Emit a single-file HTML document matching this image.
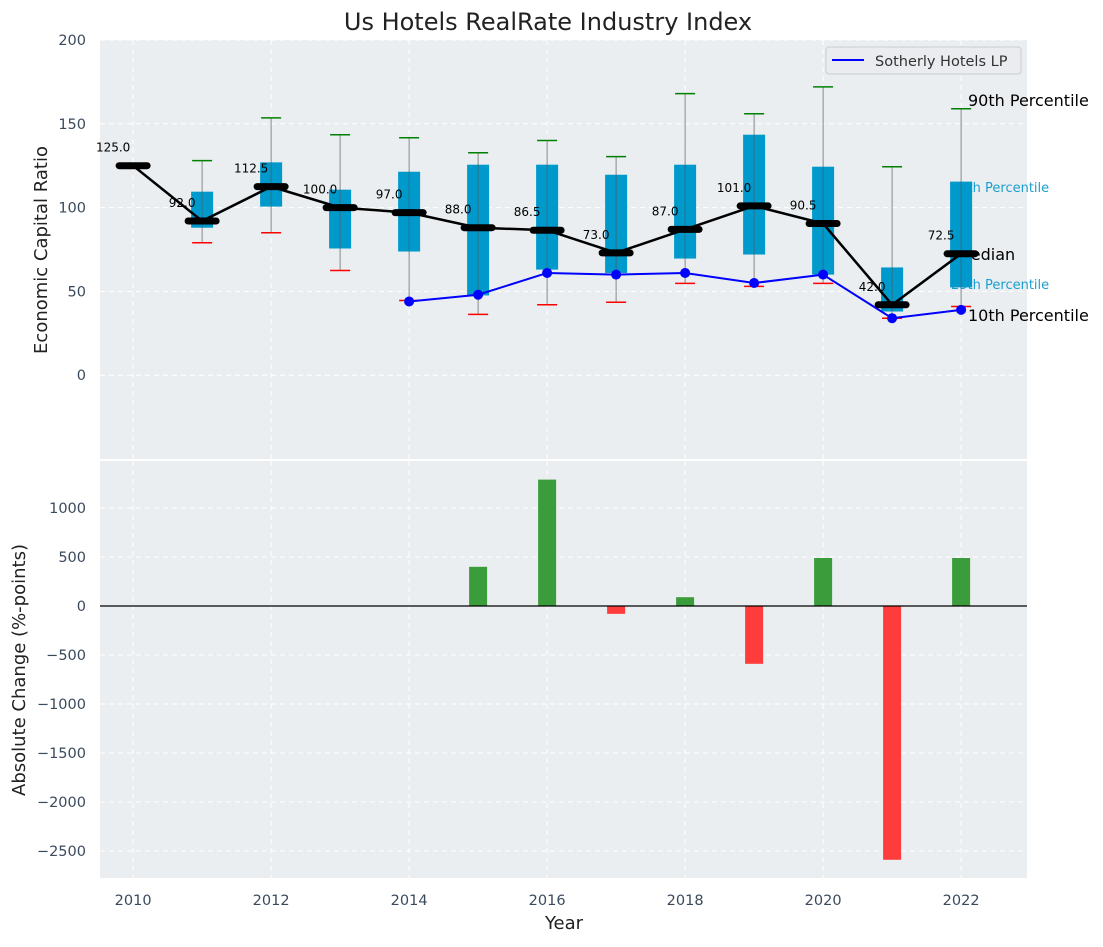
<!DOCTYPE html>
<html><head><meta charset="utf-8"><style>
body{margin:0;background:#fff;font-family:"Liberation Sans","DejaVu Sans",sans-serif;}
svg text{font-family:"DejaVu Sans","Liberation Sans",sans-serif;}
</style></head><body>
<svg id="c" width="1103" height="942" xmlns="http://www.w3.org/2000/svg"></svg>
<script>
const years=[2010,2011,2012,2013,2014,2015,2016,2017,2018,2019,2020,2021,2022];
const medians=[125,92,112.5,100,97,88,86.5,73,87,101,90.5,42,72.5];
const p90=[null,128,153.5,143.5,141.7,132.7,140,130.4,168,156,172,124.4,159];
const p75=[null,109.5,127,110.7,121.4,125.6,125.6,119.6,125.6,143.5,124.4,64.3,115.5];
const p25=[null,88,100.6,75.6,73.8,47.6,63,61,69.6,72,60,38,52.4];
const p10=[null,79,85,62.5,44.6,36.3,42,43.5,54.8,53,54.8,34,41];
const sothYears=[2014,2015,2016,2017,2018,2019,2020,2021,2022];
const sothVals=[44,48,61,60,61,55,60,34,39];
const changeYears=[2015,2016,2017,2018,2019,2020,2021,2022];
const changeVals=[400,1290,-80,90,-590,490,-2590,490];
const topTicks=[0,50,100,150,200];
const botTicks=[1000,500,0,-500,-1000,-1500,-2000,-2500];
const xTicks=[2010,2012,2014,2016,2018,2020,2022];

const NS="http://www.w3.org/2000/svg";
const svg=document.getElementById('c');
function el(t,a,p){const e=document.createElementNS(NS,t);for(const k in a)e.setAttribute(k,a[k]);(p||svg).appendChild(e);return e;}
const L=100,R=1027;
const X=y=>L+(y-2009.52)*(R-L)/(2022.955-2009.52);
const T0=40,T1=459,B0=461,B1=878;
const YT=v=>T0+(200-v)*(T1-T0)/250;
const YB=v=>B0+(1480-v)*(B1-B0)/(1480+2776);

let t=el('text',{x:548,y:30,'font-size':24,'text-anchor':'middle',fill:'#222'});t.textContent='Us Hotels RealRate Industry Index';


let pt=el('rect',{x:L,y:T0,width:R-L,height:T1-T0,fill:'#eaeef0'});

let pb=el('rect',{x:L,y:B0,width:R-L,height:B1-B0,fill:'#eaeef0'});


const g=el('g',{});

xTicks.forEach(y=>{
 el('line',{x1:X(y),x2:X(y),y1:T0,y2:T1,stroke:'#fff','stroke-dasharray':'5,4','stroke-width':1},g);
 el('line',{x1:X(y),x2:X(y),y1:B0,y2:B1,stroke:'#fff','stroke-dasharray':'5,4','stroke-width':1},g);
 const tx=el('text',{x:X(y),y:905,'font-size':14.5,'text-anchor':'middle',fill:'#3a4a5c'});tx.textContent=y;
 
});
topTicks.forEach(v=>{
 el('line',{x1:L,x2:R,y1:YT(v),y2:YT(v),stroke:'#fff','stroke-dasharray':'5,4'},g);
 const tx=el('text',{x:86,y:YT(v)+5,'font-size':14.5,'text-anchor':'end',fill:'#3a4a5c'});tx.textContent=v;
 
});
botTicks.forEach(v=>{
 el('line',{x1:L,x2:R,y1:YB(v),y2:YB(v),stroke:'#fff','stroke-dasharray':'5,4'},g);
 const tx=el('text',{x:86,y:YB(v)+5,'font-size':14.5,'text-anchor':'end',fill:'#3a4a5c'});tx.textContent=String(v).replace('-','\u2212');
 
});

const ann=[['90th Percentile',968,106,16,'#000'],['75th Percentile',951,192,13,'#1a9fd0'],['Median',957,260,16,'#000'],['25th Percentile',951,289,13,'#1a9fd0'],['10th Percentile',968,321,16,'#000']];
ann.forEach(a=>{const tx=el('text',{x:a[1],y:a[2],'font-size':a[3],fill:a[4]});tx.textContent=a[0];
 });

years.forEach((y,i)=>{
 if(p90[i]==null)return;
 const x=X(y);
 const w=el('line',{x1:x,x2:x,y1:YT(p90[i]),y2:YT(p10[i]),stroke:'#888','stroke-width':1});
 
 const b=el('rect',{x:x-11,y:YT(p75[i]),width:22,height:YT(p25[i])-YT(p75[i]),fill:'#0099cc'});
 
 el('line',{x1:x,x2:x,y1:YT(p75[i]),y2:YT(p25[i]),stroke:'#555','stroke-width':1,opacity:0.6});
 const c1=el('line',{x1:x-10,x2:x+10,y1:YT(p90[i]),y2:YT(p90[i]),stroke:'#008000','stroke-width':1.5});
 
 const c2=el('line',{x1:x-10,x2:x+10,y1:YT(p10[i]),y2:YT(p10[i]),stroke:'#ff0000','stroke-width':1.5});
 
});

const sp=el('polyline',{points:sothYears.map((y,i)=>X(y)+','+YT(sothVals[i])).join(' '),fill:'none',stroke:'#0000ff','stroke-width':2});

sothYears.forEach((y,i)=>{const c=el('circle',{cx:X(y),cy:YT(sothVals[i]),r:5,fill:'#0000ff'});
 });

const ml=el('polyline',{points:years.map((y,i)=>X(y)+','+YT(medians[i])).join(' '),fill:'none',stroke:'#000','stroke-width':2.5});

years.forEach((y,i)=>{
 const m=el('line',{x1:X(y)-14,x2:X(y)+14,y1:YT(medians[i]),y2:YT(medians[i]),stroke:'#000','stroke-width':7,'stroke-linecap':'round'});
 
 const tx=el('text',{x:X(y)-20,y:YT(medians[i])-14,'font-size':12,'text-anchor':'middle',fill:'#000'});
 tx.textContent=medians[i].toFixed(1);
 
});

const lg=el('g',{});
el('rect',{x:826,y:47,width:195,height:27,rx:3,fill:'#eaecf0',stroke:'#ccc'},lg);
el('line',{x1:832,x2:864,y1:60,y2:60,stroke:'#0000ff','stroke-width':2},lg);
const lt=el('text',{x:875,y:66,'font-size':14.5,fill:'#333'},lg);lt.textContent='Sotherly Hotels LP';

changeYears.forEach((y,i)=>{
 const v=changeVals[i];
 const b=el('rect',{x:X(y)-9,y:Math.min(YB(v),YB(0)),width:18,height:Math.abs(YB(v)-YB(0)),fill:v>=0?'#3a9c3a':'#ff3c3c'});
 
});
const zl=el('line',{x1:L,x2:R,y1:YB(0),y2:YB(0),stroke:'#000','stroke-width':1.2});


let a1=el('text',{x:0,y:0,'font-size':18,'text-anchor':'middle',fill:'#222',transform:'translate(47,250) rotate(-90)'});a1.textContent='Economic Capital Ratio';

let a2=el('text',{x:0,y:0,'font-size':18,'text-anchor':'middle',fill:'#222',transform:'translate(25,670) rotate(-90)'});a2.textContent='Absolute Change (%-points)';

let a3=el('text',{x:564,y:929,'font-size':18,'text-anchor':'middle',fill:'#222'});a3.textContent='Year';

</script>
</body></html>
